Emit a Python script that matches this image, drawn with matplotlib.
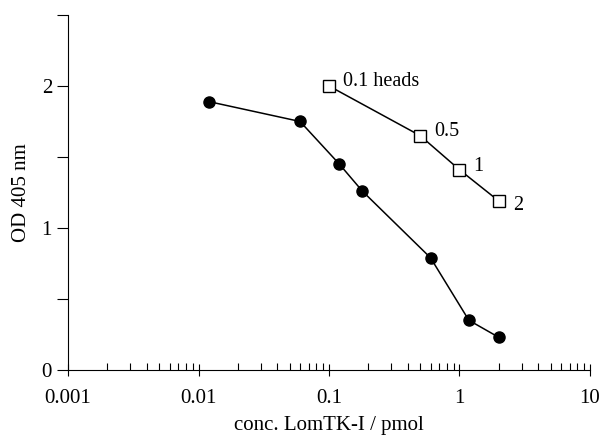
import matplotlib
matplotlib.use("Agg")
import matplotlib.pyplot as plt
from matplotlib.ticker import LogLocator, FixedLocator, NullFormatter

plt.rcParams['font.family'] = ['Liberation Serif', 'DejaVu Serif']

# filled circles: LomTK-I standard
conc = [0.012, 0.06, 0.12, 0.18, 0.6, 1.18, 2.0]
od = [1.89, 1.75, 1.45, 1.26, 0.79, 0.35, 0.23]

# open squares: heads extract
heads_x = [0.1, 0.5, 1.0, 2.0]
heads_y = [2.0, 1.65, 1.41, 1.19]
heads_lbl = ["0.1 heads", "0.5", "1", "2"]

fig = plt.figure(figsize=(6.05, 4.38), dpi=100)
ax = fig.add_axes([0.1124, 0.1553, 0.8628, 0.8105])

ax.plot(conc, od, '-', color='black', lw=1.1, marker='o', ms=8,
        mfc='black', mec='black')
ax.plot(heads_x, heads_y, '-', color='black', lw=1.1, marker='s', ms=8,
        mfc='white', mec='black', mew=1.0)

offs = [(10, 3), (10, 3), (10, 2), (10, -3)]
for x, y, t, o in zip(heads_x, heads_y, heads_lbl, offs):
    ax.annotate(t, (x, y), xytext=o, textcoords='offset points',
                fontsize=14.5, va='center', ha='left')

ax.set_xscale('log')
ax.set_xlim(0.001, 10)
ax.set_ylim(0, 2.5)

ax.spines['top'].set_visible(False)
ax.spines['right'].set_visible(False)

ax.xaxis.set_major_locator(FixedLocator([0.001, 0.01, 0.1, 1, 10]))
ax.set_xticklabels(["0.001", "0.01", "0.1", "1", "10"])
ax.xaxis.set_minor_locator(LogLocator(base=10, subs=range(2, 10)))
ax.xaxis.set_minor_formatter(NullFormatter())
ax.tick_params(axis='x', which='major', direction='inout', length=9,
               width=0.8, labelsize=15, pad=9)
ax.tick_params(axis='x', which='minor', direction='in', length=5, width=0.8)

ax.set_yticks([0, 1, 2])
ax.set_yticks([0.5, 1.5, 2.5], minor=True)
ax.tick_params(axis='y', which='both', direction='out', length=8,
               width=0.8, labelsize=15)

ax.set_xlabel("conc. LomTK-I / pmol", fontsize=15, labelpad=6)
ax.set_ylabel("OD 405 nm", fontsize=15, labelpad=8)

fig.savefig("out.png", dpi=100)
